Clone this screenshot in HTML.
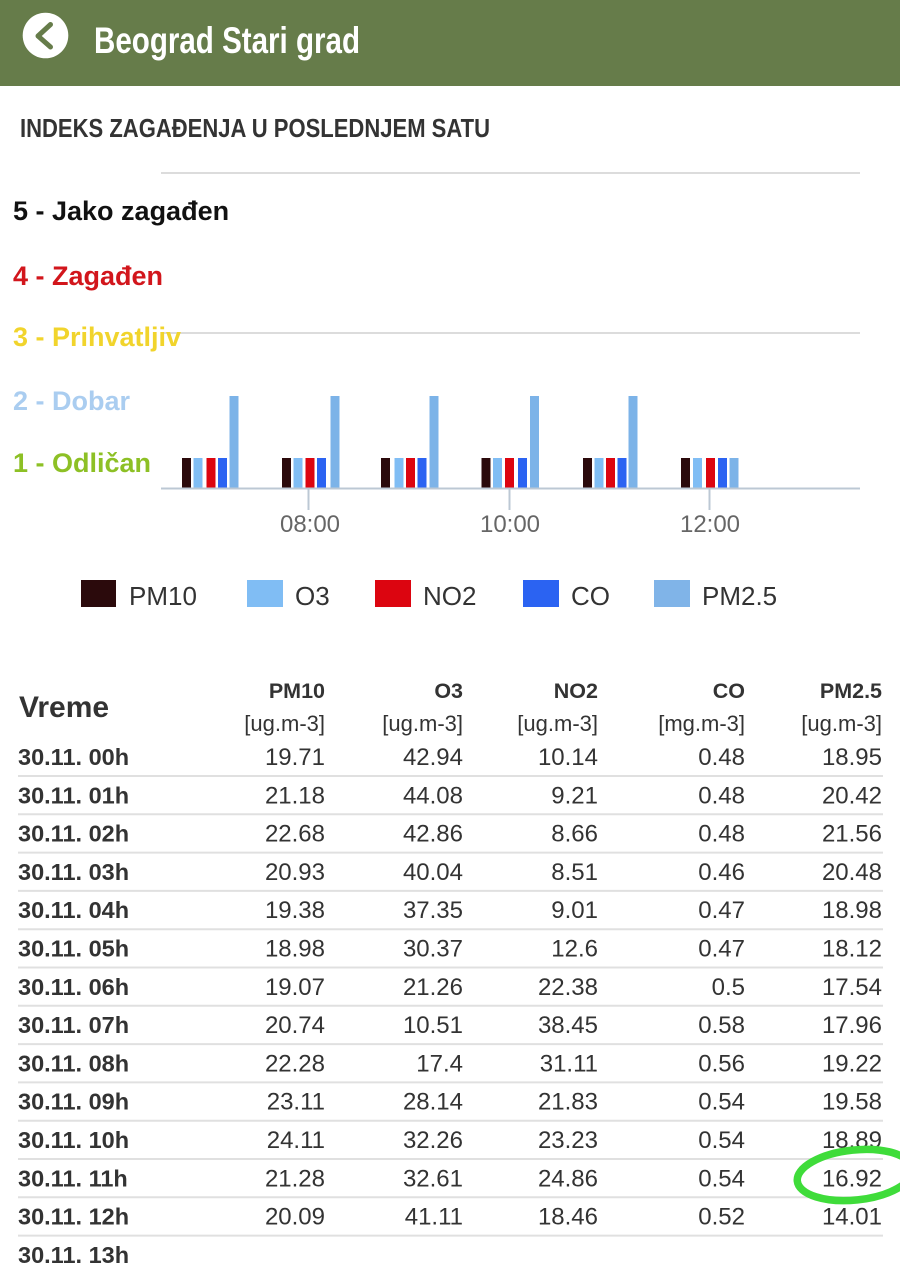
<!DOCTYPE html>
<html><head><meta charset="utf-8"><style>
html,body{margin:0;padding:0;background:#fff;}
svg{display:block;}
text{font-family:"Liberation Sans",sans-serif;}
</style></head><body>
<svg width="900" height="1267" viewBox="0 0 900 1267" xmlns="http://www.w3.org/2000/svg">
<rect x="0" y="0" width="900" height="1267" fill="#fff"/>
<!-- header -->
<rect x="0" y="0" width="900" height="86" fill="#667c4a"/>
<circle cx="45.5" cy="35.5" r="22.8" fill="#fff"/>
<polyline points="50.5,24.5 38,36 50.5,47" fill="none" stroke="#667c4a" stroke-width="5" stroke-linecap="round" stroke-linejoin="round"/>
<text x="94" y="53" font-size="37" font-weight="bold" fill="#fff" textLength="266" lengthAdjust="spacingAndGlyphs">Beograd Stari grad</text>

<text x="20" y="137" font-size="26" font-weight="bold" fill="#333" textLength="470" lengthAdjust="spacingAndGlyphs">INDEKS ZAGAĐENJA U POSLEDNJEM SATU</text>

<!-- gridlines -->
<line x1="161" y1="173" x2="860" y2="173" stroke="#dcdcdc" stroke-width="2"/>
<line x1="161" y1="333" x2="860" y2="333" stroke="#dcdcdc" stroke-width="2"/>

<!-- y labels -->
<text x="13" y="220" font-size="27" font-weight="bold" fill="#111">5 - Jako zagađen</text>
<text x="13" y="285" font-size="27" font-weight="bold" fill="#d2161c">4 - Zagađen</text>
<text x="13" y="346" font-size="27" font-weight="bold" fill="#f1d42c">3 - Prihvatljiv</text>
<text x="13" y="410" font-size="27" font-weight="bold" fill="#aacdf0">2 - Dobar</text>
<text x="13" y="472" font-size="27" font-weight="bold" fill="#8dc025">1 - Odličan</text>

<!-- bars -->
<g>
<rect x="182" y="458" width="9" height="30" fill="#2b0a0c"/>
<rect x="193.5" y="458" width="9" height="30" fill="#80bdf4"/>
<rect x="206.5" y="458" width="9" height="30" fill="#dc0510"/>
<rect x="218" y="458" width="9" height="30" fill="#2b63f2"/>
<rect x="229.5" y="396" width="9" height="92" fill="#7cb3e8"/>

<rect x="282" y="458" width="9" height="30" fill="#2b0a0c"/>
<rect x="293.5" y="458" width="9" height="30" fill="#80bdf4"/>
<rect x="305.5" y="458" width="9" height="30" fill="#dc0510"/>
<rect x="317" y="458" width="9" height="30" fill="#2b63f2"/>
<rect x="330.5" y="396" width="9" height="92" fill="#7cb3e8"/>

<rect x="381" y="458" width="9" height="30" fill="#2b0a0c"/>
<rect x="394.5" y="458" width="9" height="30" fill="#80bdf4"/>
<rect x="406" y="458" width="9" height="30" fill="#dc0510"/>
<rect x="417.5" y="458" width="9" height="30" fill="#2b63f2"/>
<rect x="429.5" y="396" width="9" height="92" fill="#7cb3e8"/>

<rect x="481.5" y="458" width="9" height="30" fill="#2b0a0c"/>
<rect x="493" y="458" width="9" height="30" fill="#80bdf4"/>
<rect x="505" y="458" width="9" height="30" fill="#dc0510"/>
<rect x="518" y="458" width="9" height="30" fill="#2b63f2"/>
<rect x="530" y="396" width="9" height="92" fill="#7cb3e8"/>

<rect x="583" y="458" width="9" height="30" fill="#2b0a0c"/>
<rect x="594.5" y="458" width="9" height="30" fill="#80bdf4"/>
<rect x="606" y="458" width="9" height="30" fill="#dc0510"/>
<rect x="617.5" y="458" width="9" height="30" fill="#2b63f2"/>
<rect x="628.5" y="396" width="9" height="92" fill="#7cb3e8"/>

<rect x="681" y="458" width="9" height="30" fill="#2b0a0c"/>
<rect x="693" y="458" width="9" height="30" fill="#80bdf4"/>
<rect x="706" y="458" width="9" height="30" fill="#dc0510"/>
<rect x="718" y="458" width="9" height="30" fill="#2b63f2"/>
<rect x="729.5" y="458" width="9" height="30" fill="#7cb3e8"/>
</g>

<!-- axis -->
<line x1="161" y1="488.5" x2="860" y2="488.5" stroke="#bcc8d4" stroke-width="2"/>
<line x1="308.5" y1="488" x2="308.5" y2="510" stroke="#bcc8d4" stroke-width="2"/>
<line x1="509.5" y1="488" x2="509.5" y2="510" stroke="#bcc8d4" stroke-width="2"/>
<line x1="709.5" y1="488" x2="709.5" y2="510" stroke="#bcc8d4" stroke-width="2"/>
<text x="310" y="532" font-size="24" fill="#666" text-anchor="middle">08:00</text>
<text x="510" y="532" font-size="24" fill="#666" text-anchor="middle">10:00</text>
<text x="710" y="532" font-size="24" fill="#666" text-anchor="middle">12:00</text>

<!-- legend -->
<rect x="81" y="580" width="35" height="27" fill="#2b0a0c"/>
<text x="129" y="605" font-size="26" fill="#333">PM10</text>
<rect x="247" y="580" width="36" height="27" fill="#80bdf4"/>
<text x="295" y="605" font-size="26" fill="#333">O3</text>
<rect x="375" y="580" width="36" height="27" fill="#dc0510"/>
<text x="423" y="605" font-size="26" fill="#333">NO2</text>
<rect x="523" y="580" width="36" height="27" fill="#2b63f2"/>
<text x="571" y="605" font-size="26" fill="#333">CO</text>
<rect x="654" y="580" width="36" height="27" fill="#80b4e8"/>
<text x="702" y="605" font-size="26" fill="#333">PM2.5</text>

<!-- table header -->
<text x="19" y="717" font-size="30" font-weight="bold" fill="#333">Vreme</text>
<g font-size="21.5" font-weight="bold" fill="#333" text-anchor="end">
<text x="325" y="698">PM10</text>
<text x="463" y="698">O3</text>
<text x="598" y="698">NO2</text>
<text x="745" y="698">CO</text>
<text x="882" y="698">PM2.5</text>
</g>
<g font-size="22" fill="#333" text-anchor="end">
<text x="325" y="731">[ug.m-3]</text>
<text x="463" y="731">[ug.m-3]</text>
<text x="598" y="731">[ug.m-3]</text>
<text x="745" y="731">[mg.m-3]</text>
<text x="882" y="731">[ug.m-3]</text>
</g>

<!-- row lines -->
<g stroke="#e0e0e0" stroke-width="2">
<line x1="18" y1="776" x2="883" y2="776"/>
<line x1="18" y1="814.3" x2="883" y2="814.3"/>
<line x1="18" y1="852.6" x2="883" y2="852.6"/>
<line x1="18" y1="890.9" x2="883" y2="890.9"/>
<line x1="18" y1="929.2" x2="883" y2="929.2"/>
<line x1="18" y1="967.5" x2="883" y2="967.5"/>
<line x1="18" y1="1005.8" x2="883" y2="1005.8"/>
<line x1="18" y1="1044.1" x2="883" y2="1044.1"/>
<line x1="18" y1="1082.4" x2="883" y2="1082.4"/>
<line x1="18" y1="1120.7" x2="883" y2="1120.7"/>
<line x1="18" y1="1159" x2="883" y2="1159"/>
<line x1="18" y1="1197.3" x2="883" y2="1197.3"/>
<line x1="18" y1="1235.6" x2="883" y2="1235.6"/>
</g>

<!-- row labels -->
<g font-size="23.5" font-weight="bold" fill="#333">
<text x="18" y="765">30.11. 00h</text>
<text x="18" y="803.3">30.11. 01h</text>
<text x="18" y="841.6">30.11. 02h</text>
<text x="18" y="879.9">30.11. 03h</text>
<text x="18" y="918.2">30.11. 04h</text>
<text x="18" y="956.5">30.11. 05h</text>
<text x="18" y="994.8">30.11. 06h</text>
<text x="18" y="1033.1">30.11. 07h</text>
<text x="18" y="1071.4">30.11. 08h</text>
<text x="18" y="1109.7">30.11. 09h</text>
<text x="18" y="1148">30.11. 10h</text>
<text x="18" y="1186.3">30.11. 11h</text>
<text x="18" y="1224.6">30.11. 12h</text>
<text x="18" y="1262.9">30.11. 13h</text>
</g>

<!-- values -->
<g font-size="24" fill="#333" text-anchor="end">
<text x="325" y="765">19.71</text><text x="463" y="765">42.94</text><text x="598" y="765">10.14</text><text x="745" y="765">0.48</text><text x="882" y="765">18.95</text>
<text x="325" y="803.3">21.18</text><text x="463" y="803.3">44.08</text><text x="598" y="803.3">9.21</text><text x="745" y="803.3">0.48</text><text x="882" y="803.3">20.42</text>
<text x="325" y="841.6">22.68</text><text x="463" y="841.6">42.86</text><text x="598" y="841.6">8.66</text><text x="745" y="841.6">0.48</text><text x="882" y="841.6">21.56</text>
<text x="325" y="879.9">20.93</text><text x="463" y="879.9">40.04</text><text x="598" y="879.9">8.51</text><text x="745" y="879.9">0.46</text><text x="882" y="879.9">20.48</text>
<text x="325" y="918.2">19.38</text><text x="463" y="918.2">37.35</text><text x="598" y="918.2">9.01</text><text x="745" y="918.2">0.47</text><text x="882" y="918.2">18.98</text>
<text x="325" y="956.5">18.98</text><text x="463" y="956.5">30.37</text><text x="598" y="956.5">12.6</text><text x="745" y="956.5">0.47</text><text x="882" y="956.5">18.12</text>
<text x="325" y="994.8">19.07</text><text x="463" y="994.8">21.26</text><text x="598" y="994.8">22.38</text><text x="745" y="994.8">0.5</text><text x="882" y="994.8">17.54</text>
<text x="325" y="1033.1">20.74</text><text x="463" y="1033.1">10.51</text><text x="598" y="1033.1">38.45</text><text x="745" y="1033.1">0.58</text><text x="882" y="1033.1">17.96</text>
<text x="325" y="1071.4">22.28</text><text x="463" y="1071.4">17.4</text><text x="598" y="1071.4">31.11</text><text x="745" y="1071.4">0.56</text><text x="882" y="1071.4">19.22</text>
<text x="325" y="1109.7">23.11</text><text x="463" y="1109.7">28.14</text><text x="598" y="1109.7">21.83</text><text x="745" y="1109.7">0.54</text><text x="882" y="1109.7">19.58</text>
<text x="325" y="1148">24.11</text><text x="463" y="1148">32.26</text><text x="598" y="1148">23.23</text><text x="745" y="1148">0.54</text><text x="882" y="1148">18.89</text>
<text x="325" y="1186.3">21.28</text><text x="463" y="1186.3">32.61</text><text x="598" y="1186.3">24.86</text><text x="745" y="1186.3">0.54</text><text x="882" y="1186.3">16.92</text>
<text x="325" y="1224.6">20.09</text><text x="463" y="1224.6">41.11</text><text x="598" y="1224.6">18.46</text><text x="745" y="1224.6">0.52</text><text x="882" y="1224.6">14.01</text>
</g>

<!-- green ellipse highlight -->
<ellipse cx="855" cy="1175" rx="58" ry="25" fill="none" stroke="#3fdc3a" stroke-width="7.5" transform="rotate(-6 855 1175)"/>
</svg>
</body></html>
